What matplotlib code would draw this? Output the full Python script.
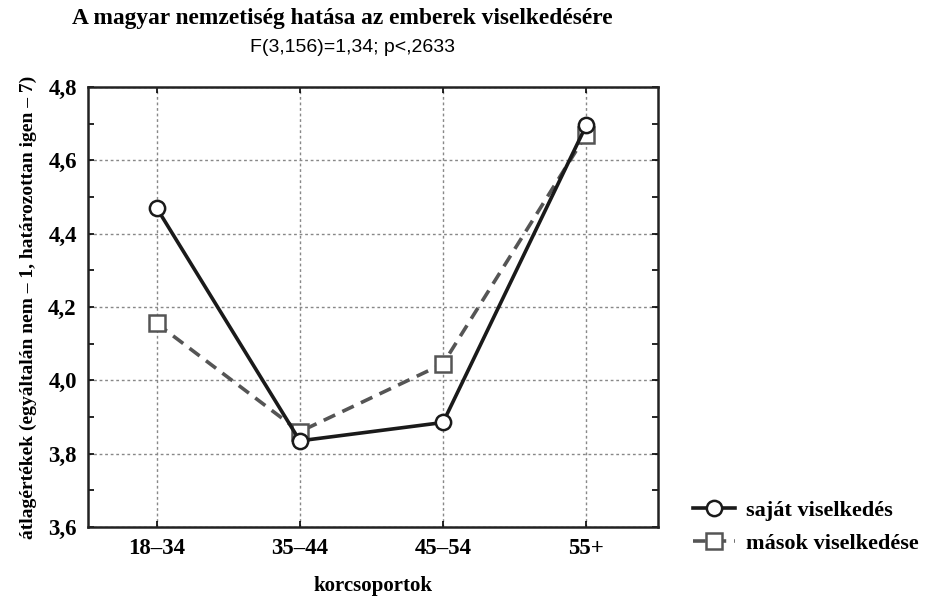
import matplotlib
matplotlib.use("Agg")
import matplotlib.pyplot as plt
from matplotlib.ticker import MultipleLocator

# korcsoportok
groups = ["18–34", "35–44", "45–54", "55+"]
sajat = [4.47, 3.835, 3.885, 4.695]
masok = [4.155, 3.86, 4.045, 4.67]

serif = "Liberation Serif"
sans = "Liberation Sans"

fig = plt.figure(figsize=(9.33, 6.04), dpi=100)
ax = fig.add_axes([0.0943, 0.1275, 0.6107, 0.7285])

x = range(len(groups))
ax.plot(x, sajat, color="#1a1a1a", lw=2.6, marker="o", ms=11,
        mfc="white", mec="#1a1a1a", mew=1.8, label="saját viselkedés", zorder=4)
ax.plot(x, masok, color="#555555", lw=2.6, ls=(0, (3.5, 2.2)), marker="s", ms=11,
        mfc="white", mec="#555555", mew=1.8, label="mások viselkedése", zorder=3)

ax.set_xlim(-0.48, 3.5)
ax.set_ylim(3.6, 4.8)
ax.set_xticks(list(x))
ax.set_xticklabels(groups)
ax.yaxis.set_major_locator(MultipleLocator(0.2))
ax.yaxis.set_minor_locator(MultipleLocator(0.1))
ax.yaxis.set_major_formatter(plt.FuncFormatter(lambda v, p: f"{v:.1f}".replace(".", ",")))
ax.tick_params(direction="in", top=True, right=True, which="both", length=4, width=1.2)
ax.tick_params(axis="both", which="major", labelsize=16.5, pad=8)
for lab in ax.get_xticklabels() + ax.get_yticklabels():
    lab.set_fontfamily(serif)
    lab.set_fontweight("bold")

ax.grid(True, which="major", ls=(0, (2, 2)), color="#888888", lw=1)
for s in ax.spines.values():
    s.set_linewidth(1.8)
    s.set_color("#222222")

ax.set_xlabel("korcsoportok", fontfamily=serif, fontweight="bold", fontsize=15, labelpad=12)
ax.set_ylabel("átlagértékek (egyáltalán nem – 1, határozottan igen – 7)",
              fontfamily=serif, fontweight="bold", fontsize=14, labelpad=8)

fig.text(0.367, 0.969, "A magyar nemzetiség hatása az emberek viselkedésére",
         ha="center", va="center", fontfamily=serif, fontweight="bold", fontsize=16.8)
fig.text(0.378, 0.922, "F(3,156)=1,34; p<,2633",
         ha="center", va="center", fontfamily=sans, fontsize=14)

leg = ax.legend(loc="center left", bbox_to_anchor=(1.026, 0.0), frameon=False,
                prop={"family": serif, "weight": "bold", "size": 16},
                handlelength=1.9, handletextpad=0.5, labelspacing=0.55)

fig.savefig("out.png", dpi=100)
